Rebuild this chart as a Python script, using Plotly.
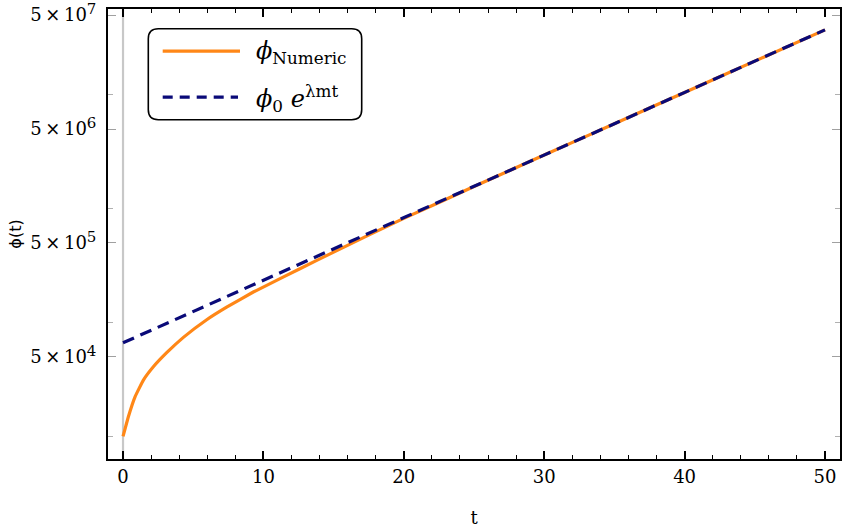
import plotly.graph_objects as go

# ---- data ----
t_numeric = [0, 0.38, 0.855, 1.45, 2.16, 3.11, 4.3, 5.96, 7.38, 9.28, 11.4,
             13.8, 15.7, 17.6, 20, 25, 30, 35, 40, 45, 50]
phi_numeric = [1.000e4, 1.488e4, 2.229e4, 3.124e4, 4.087e4, 5.433e4, 7.413e4, 1.059e5,
               1.365e5, 1.854e5, 2.503e5, 3.512e5, 4.570e5, 5.947e5, 8.209e5, 1.563e6,
               2.957e6, 5.568e6, 1.048e7, 1.973e7, 3.715e7]
t_fit = [0, 10, 20, 30, 40, 50]
phi_fit = [6.64e4, 2.355e5, 8.34e5, 2.96e6, 1.047e7, 3.715e7]

x_tickvals = [0, 10, 20, 30, 40, 50]
y_tickvals = [5e4, 5e5, 5e6, 5e7]
y_exponents = [4, 5, 6, 7]
y_minorvals = [1e4, 1e5, 1e6, 1e7]
y_ticktext = ["5\u2009×\u200910<sup><span style='font-size:15px'>%d</span></sup>" % e for e in y_exponents]

# ---- layout geometry (pixels) ----
W, H = 850, 532
ML, MR, MT, MB = 108, 10, 8.5, 73
PW, PH = W - ML - MR, H - MT - MB

def fx(px):
    return (px - ML) / PW

def fy(py):
    return (H - MB - py) / PH

ORANGE = "#FF8717"
NAVY = "#0A0A78"
SERIF = "DejaVu Serif, serif"

fig = go.Figure()
fig.add_trace(go.Scatter(x=t_numeric, y=phi_numeric, mode="lines",
                         line=dict(color=ORANGE, width=3.2, shape="spline", smoothing=0.3),
                         showlegend=False))
fig.add_trace(go.Scatter(x=t_fit, y=phi_fit, mode="lines",
                         line=dict(color=NAVY, width=3.2, dash="12px,7px"),
                         showlegend=False))

shapes = []
# gray axis line at t = 0
shapes.append(dict(type="line", xref="x", yref="paper", x0=0, x1=0, y0=0, y1=1,
                   line=dict(color="#C8C8C8", width=2.2), layer="below"))

# rounded legend box
x0, x1 = fx(148.3), fx(361.7)
y1, y0 = fy(28.3), fy(119.3)
rx, ry = 10 / PW, 10 / PH
path = (f"M {x0+rx},{y1} L {x1-rx},{y1} Q {x1},{y1} {x1},{y1-ry} "
        f"L {x1},{y0+ry} Q {x1},{y0} {x1-rx},{y0} "
        f"L {x0+rx},{y0} Q {x0},{y0} {x0},{y0+ry} "
        f"L {x0},{y1-ry} Q {x0},{y1} {x0+rx},{y1} Z")
shapes.append(dict(type="path", xref="paper", yref="paper", path=path,
                   line=dict(color="black", width=1.6), fillcolor="white"))
# legend sample lines
shapes.append(dict(type="line", xref="paper", yref="paper", x0=fx(162.7), x1=fx(240), y0=fy(50.7), y1=fy(50.7),
                   line=dict(color=ORANGE, width=3.2)))
shapes.append(dict(type="line", xref="paper", yref="paper", x0=fx(162.7), x1=fx(238), y0=fy(96.7), y1=fy(96.7),
                   line=dict(color=NAVY, width=3.2, dash="10px,7px")))

annotations = [
    dict(xref="paper", yref="paper", x=fx(254), y=fy(52), xanchor="left", yanchor="middle",
         text="<i>ϕ</i><sub>Numeric</sub>", showarrow=False, font=dict(family=SERIF, size=24, color="black")),
    dict(xref="paper", yref="paper", x=fx(254), y=fy(98), xanchor="left", yanchor="middle",
         text="<i>ϕ</i><sub>0</sub> <i>e</i><sup>λmt</sup>", showarrow=False,
         font=dict(family=SERIF, size=24, color="black")),
]

fig.update_layout(
    width=W, height=H,
    margin=dict(l=ML, r=MR, t=MT, b=MB, autoexpand=False),
    paper_bgcolor="white", plot_bgcolor="white",
    shapes=shapes, annotations=annotations,
    xaxis=dict(range=[-1.07, 51.07], showgrid=False, zeroline=False, automargin=False,
               showline=True, linecolor="black", linewidth=2, mirror="ticks",
               ticks="inside", ticklen=8, tickwidth=1.6, tickcolor="black",
               tickmode="array", tickvals=x_tickvals, ticklabeloverflow="allow",
               minor=dict(ticks="inside", dtick=2, ticklen=4, tickwidth=1.2, tickcolor="black"),
               tickfont=dict(family=SERIF, size=18, color="black"),
               title=dict(text="t", font=dict(family=SERIF, size=18, color="black"), standoff=26)),
    yaxis=dict(type="log", range=[3.802, 7.753], showgrid=False, zeroline=False, automargin=False,
               showline=True, linecolor="black", linewidth=2, mirror="ticks",
               ticks="inside", ticklen=8, tickwidth=1.2, tickcolor="#A0A0A0",
               tickmode="array", tickvals=y_tickvals, ticktext=y_ticktext, ticklabeloverflow="allow",
               minor=dict(ticks="inside", tickvals=y_minorvals, ticklen=5, tickwidth=1.0, tickcolor="#B0B0B0"),
               tickfont=dict(family=SERIF, size=18, color="black"),
               ticklabelstandoff=6,
               title=dict(text="ϕ(t)", font=dict(family="DejaVu Sans, sans-serif", size=16, color="black"),
                          standoff=5)),
)

fig.write_html("out.html")
